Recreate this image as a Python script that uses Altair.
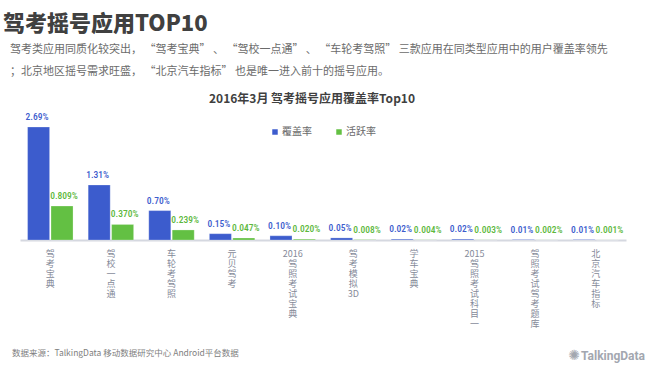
import altair as alt
import pandas as pd

categories = ["驾考宝典", "驾校一点通", "车轮考驾照", "元贝驾考", "2016 驾照考试宝典",
              "驾考模拟3D", "学车宝典", "2015 驾照考试科目一", "驾照考试驾考题库", "北京汽车指标"]
series_names = ["覆盖率", "活跃率"]
coverage = [2.69, 1.31, 0.70, 0.15, 0.10, 0.05, 0.02, 0.02, 0.01, 0.01]
active = [0.809, 0.370, 0.239, 0.047, 0.020, 0.008, 0.004, 0.003, 0.002, 0.001]

main_title = "驾考摇号应用TOP10"
sub_line1 = "驾考类应用同质化较突出， “驾考宝典” 、 “驾校一点通” 、 “车轮考驾照” 三款应用在同类型应用中的用户覆盖率领先"
sub_line2 = "；北京地区摇号需求旺盛， “北京汽车指标” 也是唯一进入前十的摇号应用。"
chart_title = "2016年3月 驾考摇号应用覆盖率Top10"
footer = "数据来源：TalkingData 移动数据研究中心 Android平台数据"
logo = "TalkingData"

rows = []
for c, v in zip(categories, coverage):
    rows.append({"cat": c, "series": series_names[0], "v": v})
for c, v in zip(categories, active):
    rows.append({"cat": c, "series": series_names[1], "v": v})
df = pd.DataFrame(rows)

BLUE = "#3c5ccd"
GREEN = "#63c043"
CJK = "Noto Sans CJK SC"
NARROW = "Liberation Sans Narrow, Roboto Condensed, Roboto, Noto Sans CJK SC"

label_expr = ("split(trim(replace(replace(datum.label, regexp('([^0-9A-Za-z ])','g'), '$1 '), "
              "regexp(' +','g'), ' ')), ' ')")

x_enc = alt.X("cat:N", sort=categories,
              scale=alt.Scale(paddingInner=0.25, paddingOuter=0.125),
              axis=alt.Axis(title=None, labelAngle=0, ticks=False, domainColor="#d5d8e0",
                            domainWidth=2, labelColor="#858a99", labelFontSize=9,
                            labelFont=CJK, labelLineHeight=10, labelPadding=9,
                            labelBaseline="top", labelExpr=label_expr))
xo_enc = alt.XOffset("series:N", sort=series_names, scale=alt.Scale(paddingInner=0.06))
y_enc = alt.Y("v:Q", scale=alt.Scale(domain=[0, 3]), axis=None)
color_enc = alt.Color("series:N", sort=series_names,
                      scale=alt.Scale(domain=series_names, range=[BLUE, GREEN]),
                      legend=alt.Legend(title=None, orient="none", legendX=250, legendY=13,
                                        direction="horizontal", symbolType="square",
                                        symbolSize=30, labelFontSize=10, labelFont=CJK,
                                        labelColor="#6b6b6b", labelOffset=2,
                                        columnPadding=22, padding=0, symbolStrokeWidth=0))

base = alt.Chart(df)
bars = base.mark_bar(stroke="white", strokeOpacity=0.25, strokeWidth=1).encode(
    x=x_enc, xOffset=xo_enc, y=y_enc, color=color_enc)

lbl_blue = base.transform_filter(alt.datum.series == series_names[0]).transform_calculate(
    lbl="format(datum.v, '.2f') + '%'"
).mark_text(baseline="middle", dy=-10, dx=-1.5, font=NARROW, fontSize=9.5,
            fontWeight=500, color=BLUE).encode(
    x=x_enc, xOffset=xo_enc, y=y_enc, text="lbl:N")

lbl_green = base.transform_filter(alt.datum.series == series_names[1]).transform_calculate(
    lbl="format(datum.v, '.3f') + '%'"
).mark_text(baseline="middle", dy=-10, dx=2, font=NARROW, fontSize=9.5,
            fontWeight=500, color="#5cb83c").encode(
    x=x_enc, xOffset=xo_enc, y=y_enc, text="lbl:N")


def txt(s, x, y, **kw):
    return alt.Chart(pd.DataFrame({"t": [s]})).mark_text(**kw).encode(
        x=alt.value(x), y=alt.value(y), text="t:N")


t_main = txt(main_title, -17, -90, align="left", baseline="middle", font=CJK,
             fontSize=22, fontWeight=900, color="#404040")
t_sub1 = txt(sub_line1, -10, -64, align="left", baseline="middle", font=CJK,
             fontSize=11, color="#6b6b6b")
t_sub2 = txt(sub_line2, -10, -42, align="left", baseline="middle", font=CJK,
             fontSize=11, color="#6b6b6b")
t_title = txt(chart_title, 292, -15, align="center", baseline="middle", font=CJK,
              fontSize=12, fontWeight="bold", color="#3f3f3f")
t_foot = txt(footer, -8, 239, align="left", baseline="middle", font=CJK,
             fontSize=8.5, color="#808080")
t_logo = txt(logo, 561, 242, align="left", baseline="middle", font="Roboto",
             fontSize=12, fontWeight="bold", color="#a3a7b0")
t_icon = txt("✺", 554, 242, align="center", baseline="middle", font="DejaVu Sans",
             fontSize=14, color="#a3a7b0")

chart = alt.layer(bars, lbl_blue, lbl_green, t_main, t_sub1, t_sub2, t_title, t_foot,
                  t_logo, t_icon).properties(
    width=606, height=126,
    autosize=alt.AutoSizeParams(type="none"),
    padding={"left": 20, "top": 114, "right": 34, "bottom": 136},
    background="white",
).configure_view(stroke=None)

chart.save("out.html", embed_options={"renderer": "svg", "actions": False})
